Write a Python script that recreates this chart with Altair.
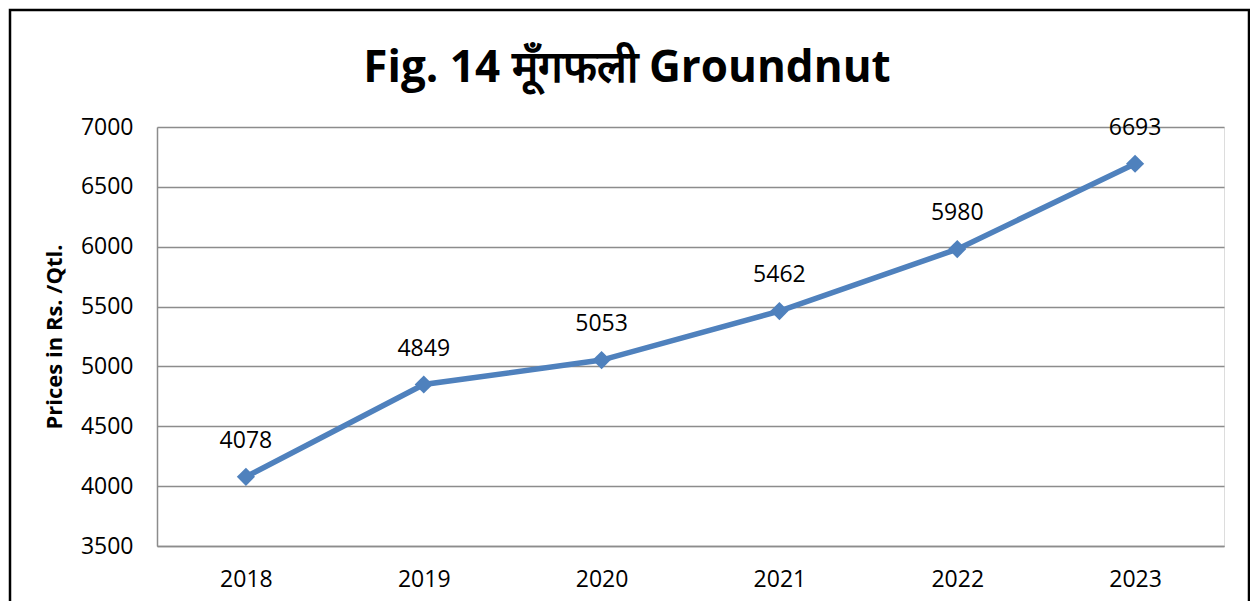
import altair as alt
import pandas as pd

years = ["2018", "2019", "2020", "2021", "2022", "2023"]
prices = [4078, 4849, 5053, 5462, 5980, 6693]
y_ticks = [3500, 4000, 4500, 5000, 5500, 6000, 6500, 7000]
title_text = "Fig. 14 मूँगफली Groundnut"
y_title = "Prices in Rs. /Qtl."

df = pd.DataFrame({"year": years, "price": prices})

FONT = "Open Sans"
LINE = "#4F81BD"
GRID = "#8C8C8C"

x_enc = alt.X("year:O", scale=alt.Scale(type="point", padding=0.5),
              axis=alt.Axis(title=None, labelAngle=0, labelFontSize=23, labelFont=FONT,
                            labelColor="black", labelPadding=22, ticks=False,
                            domainColor=GRID, domainWidth=1.5, grid=False))
y_enc = alt.Y("price:Q", scale=alt.Scale(domain=[3500, 7000], nice=False, zero=False),
              axis=alt.Axis(title=y_title, titleFontSize=22, titleFont=FONT, titleFontWeight="bold",
                            titleColor="black", titlePadding=14, values=y_ticks, format="d",
                            labelFontSize=23, labelFont=FONT, labelColor="black", labelPadding=24,
                            ticks=False, domainColor=GRID, domainWidth=1.5,
                            gridColor=GRID, gridWidth=1.5, gridOpacity=1))

base = alt.Chart(df)

line = base.mark_line(color=LINE, strokeWidth=5.5).encode(x=x_enc, y=y_enc)
pts = base.mark_point(shape="diamond", filled=True, color=LINE, size=330, opacity=1).encode(
    x="year:O", y="price:Q")
labels = base.mark_text(font=FONT, fontSize=23, color="black", dy=-36).encode(
    x="year:O", y="price:Q", text="price:Q")

title = alt.Chart(pd.DataFrame({"t": [title_text]})).mark_text(
    font=FONT, fontSize=44, fontWeight="bold", color="black", baseline="alphabetic", align="center"
).encode(x=alt.value(470), y=alt.value(-45), text="t:N")

frame = alt.Chart(pd.DataFrame({"t": [0]})).mark_rect(
    fill=None, stroke="black", strokeWidth=2.5, clip=False
).encode(x=alt.value(-147), x2=alt.value(1092), y=alt.value(-117), y2=alt.value(700))

chart = alt.layer(frame, line, pts, labels, title).properties(
    width=1067, height=419,
    autosize=alt.AutoSizeParams(type="none"),
    padding={"left": 149, "top": 119, "right": 26, "bottom": 55},
).configure_view(stroke=None).configure(background="white")

chart.save("out.html", embed_options={"renderer": "svg", "actions": False})
